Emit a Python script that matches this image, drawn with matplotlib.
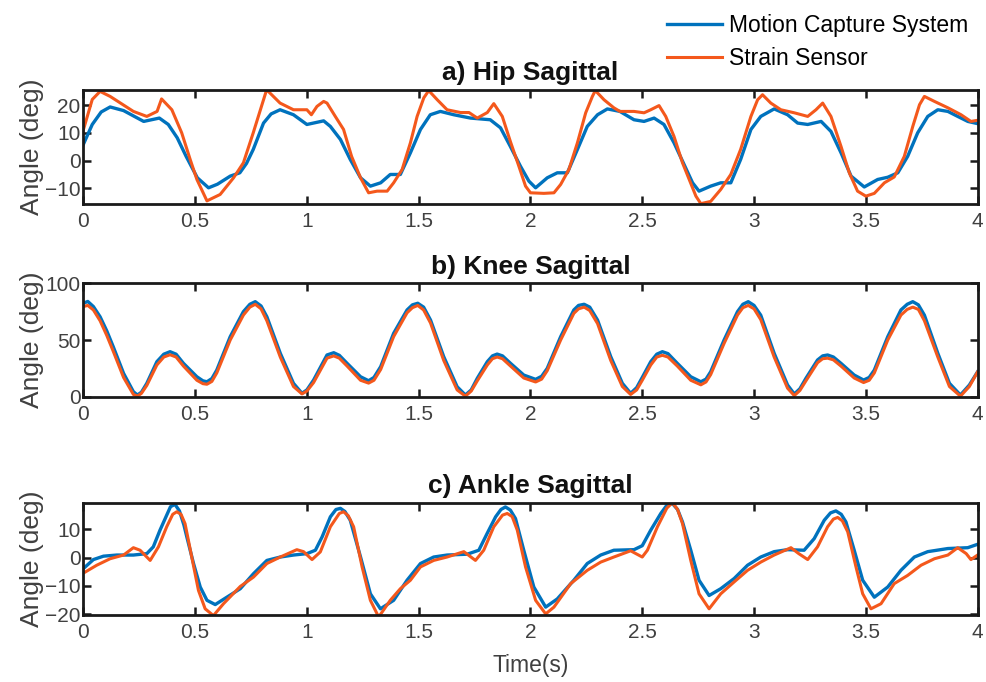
import matplotlib
matplotlib.use("Agg")
import matplotlib.pyplot as plt

plt.rcParams['font.family'] = ['Liberation Sans', 'DejaVu Sans']

# ---------------- data ----------------
series_labels = ["Motion Capture System", "Strain Sensor"]
panel_titles = ["a) Hip Sagittal", "b) Knee Sagittal", "c) Ankle Sagittal"]
x_label = "Time(s)"
y_label = "Angle (deg)"
x_ticks = [0, 0.5, 1, 1.5, 2, 2.5, 3, 3.5, 4]
x_tick_labels = ["0", "0.5", "1", "1.5", "2", "2.5", "3", "3.5", "4"]
hip_yticks = [-10, 0, 10, 20]
knee_yticks = [0, 50, 100]
ankle_yticks = [-20, -10, 0, 10]

hip_mocap_t = [0.0, 0.04, 0.08, 0.12, 0.18, 0.27, 0.34, 0.38, 0.42, 0.46, 0.51, 0.56, 0.60,
               0.657, 0.70, 0.73, 0.76, 0.806, 0.84, 0.88, 0.94, 1.0, 1.075, 1.105, 1.15,
               1.194, 1.24, 1.284, 1.33, 1.373, 1.418, 1.463, 1.508, 1.552, 1.597, 1.657,
               1.732, 1.82, 1.866, 1.91, 1.955, 1.993, 2.023, 2.075, 2.12, 2.165, 2.21,
               2.254, 2.30, 2.344, 2.40, 2.463, 2.508, 2.553, 2.597, 2.642, 2.687, 2.725,
               2.754, 2.806, 2.851, 2.896, 2.94, 2.986, 3.03, 3.09, 3.15, 3.195, 3.24,
               3.30, 3.344, 3.389, 3.434, 3.493, 3.553, 3.598, 3.643, 3.687, 3.732, 3.777,
               3.822, 3.867, 3.911, 3.956, 4.0]
hip_mocap = [5.8, 13.0, 17.5, 19.3, 18.0, 14.1, 15.3, 13.0, 8.2, 1.5, -6.2, -9.8, -8.5,
             -5.6, -4.4, -1.0, 4.0, 13.5, 16.8, 18.3, 16.5, 13.0, 14.3, 12.3, 7.6,
             0.4, -6.2, -9.2, -8.0, -5.0, -5.0, 2.8, 11.2, 16.5, 17.7, 16.5,
             15.3, 14.7, 11.8, 5.1, -2.0, -7.4, -9.8, -6.2, -4.4, -4.4, 4.0,
             12.3, 16.5, 18.6, 17.7, 14.7, 14.1, 15.3, 13.0, 6.4, -1.4, -8.0,
             -11.0, -9.2, -8.0, -8.0, 0.4, 11.2, 15.9, 18.6, 16.5, 13.5, 13.0,
             14.1, 10.5, 2.8, -5.6, -9.5, -6.8, -6.0, -4.4, 1.5, 10.0, 15.9,
             18.3, 17.7, 15.9, 14.1, 13.3]

hip_strain_t = [0.0, 0.04, 0.075, 0.12, 0.224, 0.284, 0.33, 0.35, 0.396, 0.44, 0.478, 0.508,
                0.553, 0.612, 0.672, 0.716, 0.76, 0.82, 0.88, 0.94, 1.0, 1.02, 1.045, 1.075,
                1.09, 1.127, 1.164, 1.20, 1.24, 1.276, 1.314, 1.359, 1.388, 1.426, 1.463,
                1.493, 1.523, 1.545, 1.583, 1.627, 1.687, 1.725, 1.762, 1.807, 1.836, 1.874,
                1.91, 1.948, 1.978, 2.0, 2.06, 2.105, 2.135, 2.172, 2.21, 2.247, 2.277, 2.29,
                2.329, 2.373, 2.40, 2.463, 2.508, 2.538, 2.575, 2.605, 2.642, 2.68, 2.71,
                2.74, 2.762, 2.806, 2.851, 2.896, 2.94, 2.986, 3.016, 3.038, 3.075, 3.12,
                3.18, 3.24, 3.277, 3.307, 3.344, 3.389, 3.426, 3.463, 3.50, 3.538, 3.583,
                3.627, 3.672, 3.71, 3.74, 3.762, 3.807, 3.867, 3.926, 3.97, 4.0]
hip_strain = [11.0, 22.0, 24.9, 23.1, 17.7, 15.9, 17.7, 22.2, 18.3, 10.0, 0.4, -6.8,
              -14.5, -12.2, -6.2, -0.8, 10.0, 25.5, 20.7, 18.3, 18.3, 16.5, 19.5, 21.3,
              20.7, 15.9, 11.2, 1.5, -6.2, -11.6, -11.0, -11.0, -8.0, -3.2, 6.4,
              15.9, 22.6, 25.2, 21.9, 18.3, 17.3, 17.3, 15.3, 17.3, 20.5, 15.9,
              6.9, -2.0, -9.2, -11.6, -11.8, -11.6, -8.6, -3.2, 6.4, 17.2, 23.1, 25.2,
              21.9, 19.0, 17.7, 17.7, 17.2, 18.3, 19.8, 15.9, 8.7, -0.8, -6.8,
              -12.8, -15.5, -14.7, -10.4, -5.0, 4.0, 15.9, 21.9, 23.7, 20.7, 18.3,
              17.2, 15.9, 18.3, 20.7, 15.9, 5.1, -4.4, -11.0, -12.8, -11.8, -8.0,
              -5.9, 1.5, 12.3, 20.1, 23.1, 21.3, 19.0, 16.5, 14.1, 14.5]

knee_t = [0.0, 0.02, 0.045, 0.075, 0.105, 0.134, 0.18, 0.224, 0.242, 0.26, 0.284, 0.329,
          0.36, 0.388, 0.415, 0.448, 0.508, 0.535, 0.553, 0.575, 0.597, 0.657, 0.716, 0.745,
          0.769, 0.795, 0.821, 0.881, 0.94, 0.978, 1.0, 1.03, 1.09, 1.12, 1.145, 1.18, 1.24,
          1.276, 1.30, 1.33, 1.388, 1.448, 1.472, 1.496, 1.522, 1.553, 1.612, 1.672, 1.709,
          1.735, 1.762, 1.807, 1.83, 1.851, 1.875, 1.911, 1.97, 2.023, 2.05, 2.075, 2.135,
          2.194, 2.215, 2.24, 2.265, 2.3, 2.359, 2.411, 2.448, 2.475, 2.5, 2.538, 2.565,
          2.59, 2.615, 2.657, 2.717, 2.762, 2.785, 2.806, 2.866, 2.926, 2.95, 2.974, 3.0,
          3.03, 3.09, 3.15, 3.18, 3.205, 3.232, 3.284, 3.307, 3.329, 3.355, 3.389, 3.448,
          3.49, 3.515, 3.538, 3.598, 3.657, 3.685, 3.71, 3.735, 3.762, 3.822, 3.874, 3.923,
          3.963, 4.0]
knee_mocap = [82.4, 84.0, 79.5, 70.5, 58.0, 44.0, 20.6, 4.4, 1.5, 4.0, 11.8, 30.9,
              37.5, 39.7, 37.5, 29.4, 17.6, 14.0, 13.2, 16.0, 23.5, 52.9, 75.0, 81.5,
              83.8, 80.0, 70.5, 38.3, 11.8, 3.0, 6.0, 14.7, 36.8, 38.8, 36.5, 29.4, 17.6,
              14.1, 17.0, 26.5, 55.9, 76.5, 81.0, 82.4, 79.0, 67.6, 35.3, 8.8, 1.5,
              6.0, 16.2, 30.9, 36.0, 37.6, 36.0, 29.4, 19.1, 15.3, 18.0, 25.0, 52.9,
              76.5, 80.5, 81.5, 79.0, 67.6, 35.3, 11.8, 3.0, 8.0, 17.0, 30.9, 37.5,
              39.7, 38.0, 29.4, 17.6, 13.2, 15.5, 22.0, 50.0, 75.0, 81.5, 83.8, 80.5,
              71.9, 38.3, 10.3, 2.4, 7.0, 16.2, 32.4, 36.0, 36.8, 35.0, 29.4, 19.1,
              14.7, 17.0, 23.5, 52.9, 76.5, 81.5, 83.8, 81.0, 71.9, 38.3, 11.8, 1.5,
              10.3, 22.0]
knee_strain = [79.5, 80.5, 76.5, 67.0, 54.0, 40.0, 17.0, 2.0, 0.5, 3.0, 10.0, 28.0,
               35.0, 37.0, 35.0, 27.0, 14.5, 11.5, 11.0, 13.5, 21.0, 50.0, 72.0, 79.0,
               81.5, 77.5, 67.0, 35.0, 9.0, 2.5, 5.0, 12.5, 34.0, 36.0, 34.0, 27.0, 14.5,
               12.0, 14.5, 24.0, 53.0, 74.0, 78.5, 80.5, 76.5, 65.0, 32.0, 6.0, 0.5,
               5.0, 14.0, 28.0, 33.5, 35.0, 33.5, 27.0, 16.5, 13.0, 15.5, 23.0, 50.0,
               73.5, 77.5, 79.0, 76.0, 64.5, 32.0, 9.0, 2.0, 6.0, 14.5, 28.0, 35.0,
               36.5, 35.0, 27.0, 14.5, 10.5, 13.0, 19.5, 47.0, 72.0, 78.5, 80.5, 77.5,
               68.0, 35.0, 7.5, 1.0, 5.5, 14.0, 30.0, 33.5, 34.0, 32.5, 27.0, 16.5,
               12.5, 14.5, 21.0, 50.0, 72.0, 77.0, 79.0, 77.0, 67.0, 35.0, 9.0, 0.5,
               9.0, 22.0]

ankle_mocap_t = [0.0, 0.045, 0.09, 0.15, 0.224, 0.284, 0.313, 0.343, 0.373, 0.39, 0.41, 0.43,
                 0.45, 0.463, 0.493, 0.523, 0.553, 0.59, 0.642, 0.702, 0.761, 0.821, 0.881,
                 0.94, 1.0, 1.038, 1.068, 1.105, 1.13, 1.15, 1.17, 1.194, 1.24, 1.284, 1.329,
                 1.388, 1.448, 1.508, 1.567, 1.627, 1.717, 1.769, 1.806, 1.844, 1.868, 1.888,
                 1.91, 1.933, 1.97, 2.015, 2.068, 2.12, 2.194, 2.254, 2.314, 2.373, 2.463,
                 2.50, 2.538, 2.583, 2.61, 2.635, 2.658, 2.68, 2.717, 2.754, 2.799, 2.851,
                 2.911, 2.971, 3.03, 3.09, 3.15, 3.224, 3.269, 3.314, 3.342, 3.366, 3.39,
                 3.411, 3.448, 3.486, 3.538, 3.598, 3.657, 3.717, 3.777, 3.867, 3.956, 4.0]
ankle_mocap = [-3.9, -0.7, 0.5, 0.9, 0.9, 1.4, 3.8, 9.7, 15.0, 18.0, 18.8, 16.5,
               11.5, 7.3, -2.1, -10.4, -15.1, -16.6, -14.0, -11.0, -5.7, -1.0, 0.2,
               0.9, 1.4, 2.6, 7.3, 14.4, 17.0, 17.4, 16.3, 13.2, 0.2, -12.8, -18.1,
               -15.1, -8.0, -2.1, 0.2, 0.9, 1.2, 2.6, 8.5, 14.4, 17.0, 17.9,
               16.8, 13.8, 2.6, -10.4, -17.5, -14.6, -8.0, -2.1, 0.9, 2.6, 2.8,
               4.2, 9.7, 15.6, 18.5, 19.1, 17.0, 12.6, 2.6, -8.0, -13.4, -11.0,
               -7.4, -2.7, 0.2, 2.1, 2.8, 2.6, 6.7, 13.2, 15.8, 16.5, 15.3,
               12.6, 2.6, -8.0, -14.0, -10.4, -4.5, 0.2, 2.1, 3.2, 3.5, 4.7]

ankle_strain_t = [0.0, 0.06, 0.12, 0.18, 0.224, 0.254, 0.299, 0.336, 0.373, 0.40, 0.418, 0.437,
                  0.455, 0.485, 0.515, 0.545, 0.582, 0.627, 0.702, 0.761, 0.821, 0.881,
                  0.955, 0.985, 1.023, 1.06, 1.105, 1.145, 1.164, 1.185, 1.209, 1.247,
                  1.284, 1.321, 1.373, 1.418, 1.463, 1.508, 1.567, 1.627, 1.702, 1.754,
                  1.791, 1.836, 1.875, 1.896, 1.918, 1.941, 1.978, 2.023, 2.068, 2.105,
                  2.18, 2.254, 2.314, 2.373, 2.448, 2.50, 2.523, 2.568, 2.61, 2.635,
                  2.658, 2.68, 2.717, 2.754, 2.799, 2.851, 2.911, 2.971, 3.03, 3.09,
                  3.165, 3.20, 3.24, 3.284, 3.329, 3.355, 3.374, 3.395, 3.419, 3.456,
                  3.486, 3.523, 3.568, 3.627, 3.687, 3.747, 3.807, 3.867, 3.911, 3.949,
                  3.97, 4.0]
ankle_strain = [-5.5, -2.7, -0.4, 0.9, 3.5, 2.6, -1.0, 3.8, 10.9, 15.3, 16.2, 15.3,
                12.0, 0.2, -11.6, -18.1, -20.5, -16.3, -10.2, -6.9, -2.1, 0.2,
                2.8, 2.1, -0.7, 2.0, 10.9, 15.6, 16.2, 14.8, 10.9, -3.3,
                -15.1, -21.0, -15.1, -11.0, -8.0, -3.3, -1.0, 0.2, 2.1, -1.0,
                2.6, 10.9, 15.0, 15.6, 14.5, 9.7, -3.3, -15.1, -19.9, -17.5,
                -9.2, -4.5, -1.6, 0.2, 2.4, 0.2, 2.6, 10.9, 17.5, 19.4,
                17.0, 12.0, -1.0, -12.8, -18.1, -12.8, -8.6, -4.5, -1.6, 0.9,
                3.5, 1.4, -0.7, 3.8, 10.9, 13.6, 14.2, 13.0, 9.1, -3.3,
                -12.8, -18.1, -16.3, -9.2, -6.3, -2.7, -0.4, 0.9, 3.5, 1.4,
                -0.7, 0.9]

# ---------------- styling ----------------
C_BLUE = "#0072BD"
C_ORANGE = "#F4581C"
TICK_COLOR = "#404040"

fig = plt.figure(figsize=(9.86, 6.82), dpi=100)

W = 0.907
L = 0.0845
axes_pos = [
    [L, 0.701, W, 0.167],
    [L, 0.4183, W, 0.1663],
    [L, 0.0982, W, 0.1647],
]
ylims = [(-15.6, 25.4), (0, 100), (-20.3, 19.4)]
yticks_all = [hip_yticks, knee_yticks, ankle_yticks]
data = [
    (hip_mocap_t, hip_mocap, hip_strain_t, hip_strain),
    (knee_t, knee_mocap, knee_t, knee_strain),
    (ankle_mocap_t, ankle_mocap, ankle_strain_t, ankle_strain),
]

handles = None
for i, pos in enumerate(axes_pos):
    ax = fig.add_axes(pos)
    t1, v1, t2, v2 = data[i]
    h1, = ax.plot(t1, v1, color=C_BLUE, lw=2.4, solid_joinstyle='round')
    h2, = ax.plot(t2, v2, color=C_ORANGE, lw=2.2, solid_joinstyle='round')
    if handles is None:
        handles = [h1, h2]
    ax.set_xlim(0, 4)
    ax.set_ylim(*ylims[i])
    ax.set_xticks(x_ticks)
    ax.set_xticklabels(x_tick_labels)
    ax.set_yticks(yticks_all[i])
    for s in ax.spines.values():
        s.set_linewidth(2.0)
        s.set_color('#1a1a1a')
    ax.tick_params(direction='in', length=6, width=1.8, top=True, right=True,
                   labelsize=15, labelcolor=TICK_COLOR, color='#1a1a1a')
    ax.tick_params(axis='x', pad=6)
    ax.tick_params(axis='y', pad=2)
    ax.set_title(panel_titles[i], fontsize=19, fontweight='bold', pad=7, color='#111111')
    ax.set_ylabel(y_label, fontsize=19, color=TICK_COLOR)
    ax.yaxis.set_label_coords(-0.0436, 0.5)
    if i == 2:
        ax.set_xlabel(x_label, fontsize=16.5, color=TICK_COLOR)
        ax.xaxis.set_label_coords(0.5, -0.35)

fig.legend(handles, series_labels, loc='upper left', bbox_to_anchor=(0.667, 0.993),
           frameon=False, fontsize=16.5, handlelength=2.4, handletextpad=0.3,
           labelspacing=0.42, borderaxespad=0, borderpad=0.4)

fig.savefig("out.png", dpi=100)
